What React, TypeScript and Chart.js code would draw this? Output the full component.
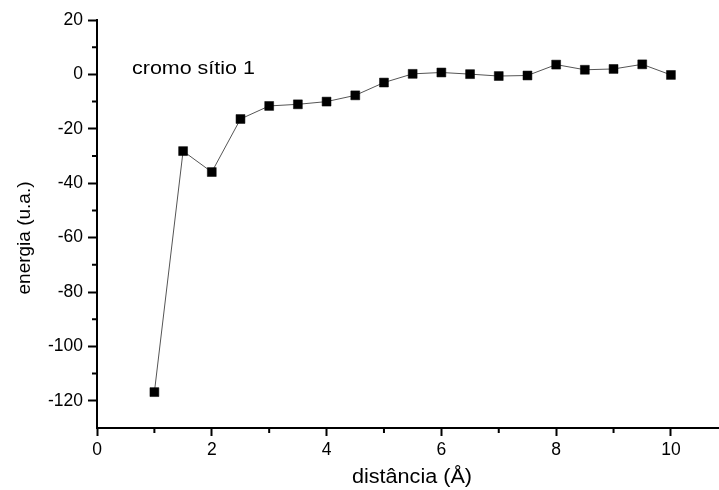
import React, { useEffect, useRef } from "react";
import { Chart, registerables } from "chart.js";

Chart.register(...registerables);

const distances = [1, 1.5, 2, 2.5, 3, 3.5, 4, 4.5, 5, 5.5, 6, 6.5, 7, 7.5, 8, 8.5, 9, 9.5, 10];
const energies = [-116.8, -28.2, -35.9, -16.4, -11.6, -11.0, -10.0, -7.7, -3.0, 0.2, 0.7, 0.1, -0.6, -0.4, 3.6, 1.7, 2.0, 3.7, -0.2];

const xMajorTicks = [0, 2, 4, 6, 8, 10];
const xMinorTicks = [1, 3, 5, 7, 9];
const yMajorTicks = [-120, -100, -80, -60, -40, -20, 0, 20];
const yMinorTicks = [-110, -90, -70, -50, -30, -10, 10];

const xTitle = "distância (Å)";
const yTitle = "energia (u.a.)";
const annotation = "cromo sítio 1";

const FONT = "'Liberation Sans', Arial, Helvetica, sans-serif";

const extrasPlugin = {
  id: "extras",
  afterDraw(chart: any) {
    const { ctx, chartArea, scales } = chart;
    const xs = scales.x;
    const ys = scales.y;
    ctx.save();
    ctx.strokeStyle = "#000";
    ctx.lineWidth = 2;
    ctx.beginPath();
    for (const v of xMinorTicks) {
      const px = xs.getPixelForValue(v);
      ctx.moveTo(px, chartArea.bottom);
      ctx.lineTo(px, chartArea.bottom + 5);
    }
    for (const v of yMinorTicks) {
      const py = ys.getPixelForValue(v);
      ctx.moveTo(chartArea.left, py);
      ctx.lineTo(chartArea.left - 5, py);
    }
    ctx.stroke();

    ctx.fillStyle = "#000";
    // x title
    ctx.save();
    ctx.translate(412, 483);
    ctx.scale(1.08, 1);
    ctx.font = `20px ${FONT}`;
    ctx.textAlign = "center";
    ctx.textBaseline = "alphabetic";
    ctx.fillText(xTitle, 0, 0);
    ctx.restore();

    // y title
    ctx.save();
    ctx.translate(30, 238);
    ctx.rotate(-Math.PI / 2);
    ctx.font = `19px ${FONT}`;
    ctx.textAlign = "center";
    ctx.textBaseline = "alphabetic";
    ctx.fillText(yTitle, 0, 0);
    ctx.restore();

    // annotation
    ctx.save();
    ctx.translate(chartArea.left + 35, 74);
    ctx.scale(1.16, 1);
    ctx.font = `18.5px ${FONT}`;
    ctx.textAlign = "left";
    ctx.textBaseline = "alphabetic";
    ctx.fillText(annotation, 0, 0);
    ctx.restore();

    ctx.restore();
  },
};

export default function App() {
  const canvasRef = useRef<HTMLCanvasElement | null>(null);

  useEffect(() => {
    if (!canvasRef.current) return;
    const chart = new Chart(canvasRef.current, {
      type: "line",
      data: {
        datasets: [
          {
            data: distances.map((d, i) => ({ x: d, y: energies[i] })),
            borderColor: "#555",
            borderWidth: 1,
            pointStyle: "rect",
            pointRadius: 6.3,
            pointBackgroundColor: "#000",
            pointBorderColor: "#000",
            pointBorderWidth: 0.5,
            tension: 0,
          },
        ],
      },
      options: {
        animation: false,
        responsive: false,
        maintainAspectRatio: false,
        layout: { autoPadding: false, padding: { top: 20, right: 1, left: 0, bottom: 0 } },
        plugins: {
          legend: { display: false },
          tooltip: { enabled: false },
          title: { display: false },
        },
        scales: {
          x: {
            type: "linear",
            min: 0,
            max: 10.82,
            afterBuildTicks: (scale: any) => {
              scale.ticks = xMajorTicks.map((v) => ({ value: v }));
            },
            afterFit: (scale: any) => {
              scale.height = 62;
            },
            grid: {
              display: true,
              drawOnChartArea: false,
              drawTicks: true,
              tickLength: 8,
              tickColor: "#000",
              tickWidth: 2,
            },
            border: { display: true, color: "#000", width: 2 },
            ticks: {
              color: "#000",
              padding: 4,
              maxRotation: 0,
              font: { family: FONT, size: 17.5 },
              callback: (v: any) => String(v),
            },
          },
          y: {
            type: "linear",
            min: -130,
            max: 20,
            afterBuildTicks: (scale: any) => {
              scale.ticks = yMajorTicks.map((v) => ({ value: v }));
            },
            afterFit: (scale: any) => {
              scale.width = 97;
            },
            grid: {
              display: true,
              drawOnChartArea: false,
              drawTicks: true,
              tickLength: 9,
              tickColor: "#000",
              tickWidth: 2,
            },
            border: { display: true, color: "#000", width: 2 },
            ticks: {
              color: "#000",
              padding: 5,
              font: { family: FONT, size: 17.5 },
              callback: (v: any) => String(v),
            },
          },
        },
      },
      plugins: [extrasPlugin],
    });
    return () => chart.destroy();
  }, []);

  return (
    <div style={{ position: "absolute", left: 0, top: 0, width: 719, height: 490, background: "#fff" }}>
      <canvas ref={canvasRef} width={719} height={490} style={{ display: "block", width: 719, height: 490 }} />
    </div>
  );
}
